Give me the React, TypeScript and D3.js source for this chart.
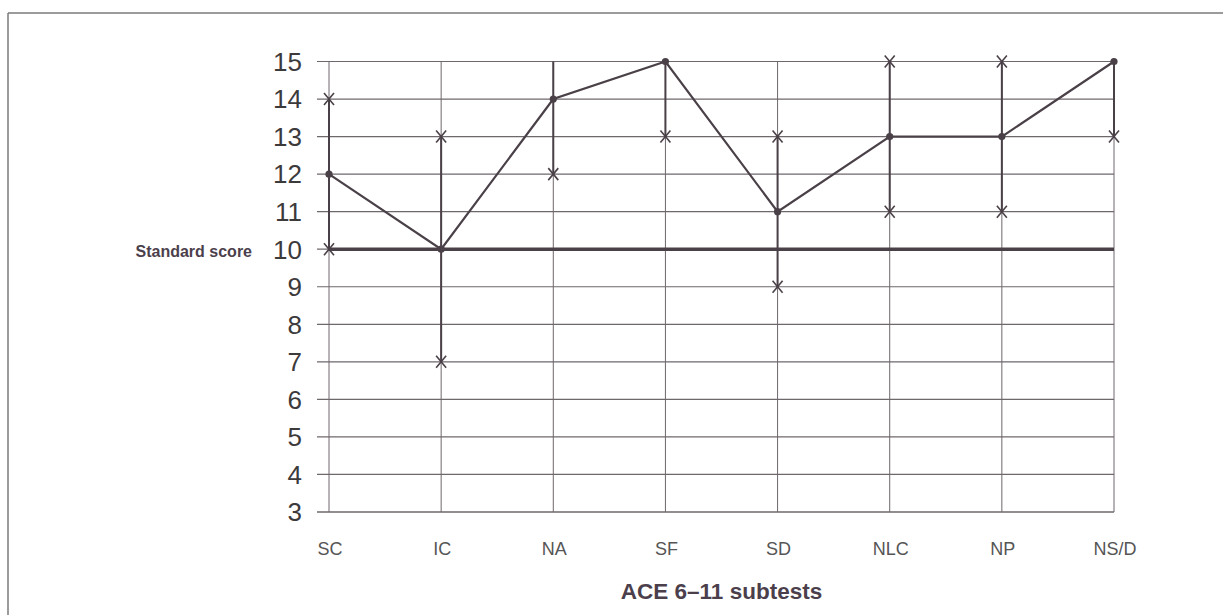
import React from "react";
import * as d3 from "d3";

const categories = ["SC", "IC", "NA", "SF", "SD", "NLC", "NP", "NS/D"];
const scores = [12, 10, 14, 15, 11, 13, 13, 15];
const lower = [10, 7, 12, 13, 9, 11, 11, 13];
const upper = [14, 13, 16, 17, 13, 15, 15, 17];
const yTicks = [3, 4, 5, 6, 7, 8, 9, 10, 11, 12, 13, 14, 15];
const referenceScore = 10;

const W = 1223;
const H = 615;
const INK = "#4a4047";
const GRID = "#6e676c";

export default function App() {
  const x = d3.scalePoint<string>().domain(categories).range([329, 1114]);
  const y = d3.scaleLinear().domain([3, 15]).range([512, 61.5]);
  const [yMin, yMax] = y.domain();
  const clamp = (v: number) => Math.max(yMin, Math.min(yMax, v));

  const line = d3
    .line<number>()
    .x((_, i) => x(categories[i]) as number)
    .y((d) => y(d));

  const x0 = x(categories[0]) as number;
  const x1 = x(categories[categories.length - 1]) as number;
  const tickLeft = x0 - 12;

  const cross = (cx: number, cy: number, key: string) => {
    const w = 5;
    const h = 6;
    return (
      <g key={key} stroke={INK} strokeWidth={1.6}>
        <line x1={cx - w} y1={cy - h} x2={cx + w} y2={cy + h} />
        <line x1={cx - w} y1={cy + h} x2={cx + w} y2={cy - h} />
      </g>
    );
  };

  return (
    <svg
      width={W}
      height={H}
      viewBox={`0 0 ${W} ${H}`}
      style={{ position: "absolute", left: 0, top: 0, background: "#fff" }}
    >
      {/* frame */}
      <line x1={8} y1={13} x2={W} y2={13} stroke="#7a7a7a" strokeWidth={1.5} />
      <line x1={8} y1={13} x2={8} y2={H} stroke="#7a7a7a" strokeWidth={1.5} />

      {/* horizontal grid */}
      {yTicks.map((t) => (
        <line
          key={"h" + t}
          x1={tickLeft}
          x2={x1}
          y1={y(t)}
          y2={y(t)}
          stroke={GRID}
          strokeWidth={t === 3 ? 1.7 : 1.2}
        />
      ))}
      {/* vertical grid */}
      {categories.map((c) => (
        <line
          key={"v" + c}
          x1={x(c)}
          x2={x(c)}
          y1={y(yMin)}
          y2={y(yMax)}
          stroke={GRID}
          strokeWidth={1}
        />
      ))}

      {/* reference line */}
      <line
        x1={x0}
        x2={x1}
        y1={y(referenceScore)}
        y2={y(referenceScore)}
        stroke={INK}
        strokeWidth={3.5}
      />

      {/* range bars */}
      {categories.map((c, i) => (
        <line
          key={"r" + c}
          x1={x(c)}
          x2={x(c)}
          y1={y(clamp(lower[i]))}
          y2={y(clamp(upper[i]))}
          stroke={INK}
          strokeWidth={2}
        />
      ))}

      {/* crosses */}
      {categories.map((c, i) => {
        const cx = x(c) as number;
        const items = [];
        if (lower[i] >= yMin && lower[i] <= yMax) items.push(cross(cx, y(lower[i]), "lo" + c));
        if (upper[i] >= yMin && upper[i] <= yMax) items.push(cross(cx, y(upper[i]), "up" + c));
        return <g key={"c" + c}>{items}</g>;
      })}

      {/* score line */}
      <path d={line(scores) || ""} fill="none" stroke={INK} strokeWidth={2.2} />
      {scores.map((s, i) => (
        <circle key={"p" + i} cx={x(categories[i])} cy={y(s)} r={3.6} fill={INK} />
      ))}

      {/* y tick labels */}
      {yTicks.map((t) => (
        <text
          key={"yl" + t}
          x={302}
          y={y(t)}
          dy="0.36em"
          textAnchor="end"
          fontFamily="Liberation Sans, Arial, sans-serif"
          fontSize={26}
          fill="#3d3a3c"
        >
          {t}
        </text>
      ))}

      {/* x tick labels */}
      {categories.map((c) => (
        <text
          key={"xl" + c}
          x={(x(c) as number) + 1}
          y={555}
          textAnchor="middle"
          fontFamily="Liberation Sans, Arial, sans-serif"
          fontSize={18}
          fill="#555"
        >
          {c}
        </text>
      ))}

      {/* axis titles */}
      <text
        x={252}
        y={257}
        textAnchor="end"
        fontFamily="Liberation Sans, Arial, sans-serif"
        fontWeight="bold"
        fontSize={16}
        fill="#4c3f4c"
      >
        Standard score
      </text>
      <text
        x={(x0 + x1) / 2}
        y={599}
        textAnchor="middle"
        fontFamily="Liberation Sans, Arial, sans-serif"
        fontWeight="bold"
        fontSize={22.5}
        fill="#4c3f4c"
      >
        ACE 6–11 subtests
      </text>
    </svg>
  );
}
